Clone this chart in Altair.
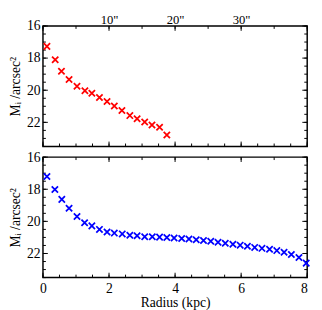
import altair as alt
import pandas as pd

# ---- data ----
red_r = [0.12, 0.37, 0.56, 0.79, 1.03, 1.27, 1.48, 1.71, 1.94, 2.16, 2.39, 2.63,
         2.85, 3.08, 3.30, 3.53, 3.75]
red_m = [17.27, 18.10, 18.82, 19.33, 19.75, 20.03, 20.19, 20.45, 20.70, 20.98, 21.26,
         21.58, 21.78, 21.98, 22.16, 22.31, 22.79]

blue_r = [0.12, 0.36, 0.57, 0.79, 1.03, 1.26, 1.48, 1.71, 1.94, 2.16, 2.40, 2.63,
          2.85, 3.08, 3.31, 3.53, 3.75, 3.97, 4.20, 4.42, 4.64, 4.86, 5.08, 5.30,
          5.52, 5.75, 5.97, 6.19, 6.41, 6.63, 6.86, 7.08, 7.30, 7.52, 7.75, 7.97]
blue_m = [17.21, 18.01, 18.63, 19.18, 19.70, 20.08, 20.28, 20.50, 20.66, 20.73, 20.78,
          20.86, 20.90, 20.96, 20.96, 20.98, 21.00, 21.03, 21.07, 21.10, 21.14, 21.19,
          21.24, 21.30, 21.36, 21.42, 21.48, 21.55, 21.62, 21.68, 21.74, 21.82, 21.92,
          22.06, 22.25, 22.60]

x_label_values = [0, 2, 4, 6, 8]
y_label_values = [16, 18, 20, 22]
top_label_kpc = [2, 4, 6]
top_label_text = ['10"', '20"', '30"']
x_minor = [i * 0.5 for i in range(17)]
top_minor = list(range(9))
y_minor = [16 + i * 0.5 for i in range(16)]

X_DOMAIN = [0, 8]
Y_DOMAIN = [16, 23.5]
W, H = 272, 124
FONT = "Times New Roman, Liberation Serif, DejaVu Serif, serif"
XPATH = "M-1,-1L1,1M-1,1L1,-1"
YTITLE = "M\u1d62 /arcsec\u00b2"
MAJ, MIN = 5, 3

label_expr = " : ".join(
    f"datum.value == {k} ? '{t}'" for k, t in zip(top_label_kpc, top_label_text)
) + " : ''"

XS = alt.Scale(domain=X_DOMAIN, nice=False, zero=False)
YS = alt.Scale(domain=Y_DOMAIN, reverse=True, nice=False, zero=False)


def yticks(values, length, side):
    x0 = 0 if side == "left" else W
    x1 = length if side == "left" else W - length
    return alt.Chart(pd.DataFrame({"v": values})).mark_rule(
        color="black", strokeWidth=1).encode(
        y=alt.Y("v:Q", scale=YS, axis=None), x=alt.value(x0), x2=alt.value(x1))


def xticks(values, length, side):
    y0 = 0 if side == "top" else H
    y1 = length if side == "top" else H - length
    return alt.Chart(pd.DataFrame({"v": values})).mark_rule(
        color="black", strokeWidth=1).encode(
        x=alt.X("v:Q", scale=XS, axis=None), y=alt.value(y0), y2=alt.value(y1))


def panel(r, m, color, top_labels):
    df = pd.DataFrame({"r": r, "m": m})
    if top_labels:
        xaxis = alt.Axis(orient="top", values=top_label_kpc, labelExpr=label_expr,
                         ticks=False, tickSize=0, domain=False, grid=False,
                         title=None, labelPadding=0, labelFontSize=13)
    else:
        xaxis = alt.Axis(orient="bottom", values=x_label_values, ticks=False,
                         tickSize=0, domain=False, grid=False,
                         title="Radius (kpc)", labelPadding=4, titlePadding=1,
                         labelAlign=alt.condition("datum.value == 8",
                                                  alt.value("right"),
                                                  alt.value("center")))
    yaxis = alt.Axis(orient="left", values=y_label_values, ticks=False, tickSize=0,
                     domain=False, grid=False, title=YTITLE, labelPadding=3,
                     titlePadding=4)

    pts = alt.Chart(df).mark_point(shape=XPATH, filled=False, strokeWidth=1.8,
                                   size=42, color=color, opacity=1).encode(
        x=alt.X("r:Q", scale=XS, axis=xaxis),
        y=alt.Y("m:Q", scale=YS, axis=yaxis),
    )
    layers = [
        yticks(y_minor, MIN, "left"), yticks(y_label_values, MAJ, "left"),
        yticks(y_minor, MIN, "right"), yticks(y_label_values, MAJ, "right"),
        xticks(x_minor, MIN, "bottom"), xticks(x_label_values, MAJ, "bottom"),
        xticks(top_minor, MIN, "top"), xticks(x_label_values, MAJ, "top"),
        pts,
    ]
    return alt.layer(*layers).resolve_axis(
        x="independent", y="independent").properties(width=W, height=H)


chart = alt.vconcat(
    panel(red_r, red_m, "#ff0000", True),
    panel(blue_r, blue_m, "#0000ff", False),
    spacing=1,
).properties(padding=0, background="white").configure_view(
    stroke="black", strokeWidth=1.5
).configure_axis(
    labelFont=FONT, labelFontSize=14, labelColor="black",
    titleFont=FONT, titleFontSize=14, titleFontWeight="normal", titleColor="black",
)

chart.save("out.html", embed_options={"renderer": "svg", "actions": False})
